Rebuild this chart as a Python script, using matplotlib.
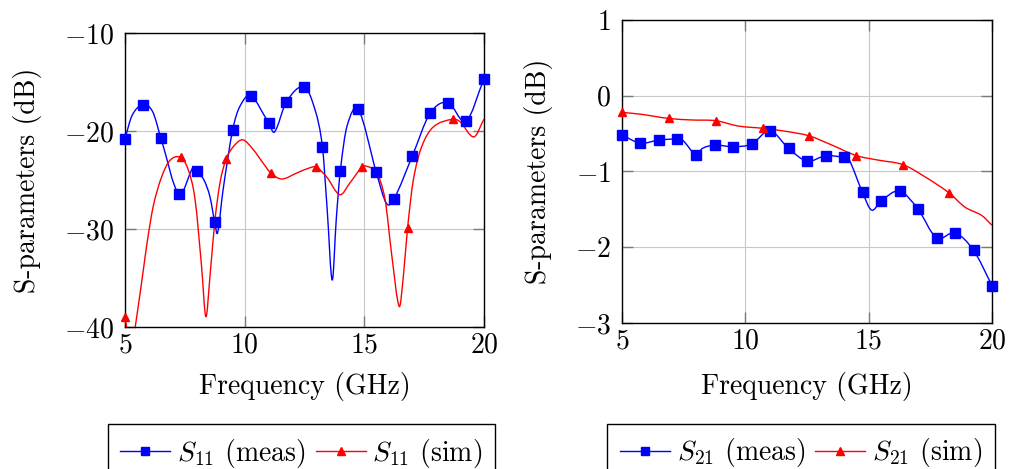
import numpy as np
import matplotlib
matplotlib.use("Agg")
import matplotlib.pyplot as plt
from matplotlib.path import Path
from matplotlib.patches import PathPatch
from matplotlib.lines import Line2D

plt.rcParams["font.family"] = "serif"
plt.rcParams["font.serif"] = ["cmr10"]
plt.rcParams["mathtext.fontset"] = "cm"
plt.rcParams["axes.formatter.use_mathtext"] = True
plt.rcParams["font.size"] = 20

# marker positions (GHz) for the measured curves
meas_marks = [5.0, 5.75, 6.5, 7.25, 8.0, 8.75, 9.5, 10.25, 11.0, 11.75, 12.5,
              13.25, 14.0, 14.75, 15.5, 16.25, 17.0, 17.75, 18.5, 19.25, 20.0]

# S11 measured
s11_meas_f = [5.0, 5.30, 5.75, 6.15, 6.5, 7.25, 7.85, 8.0, 8.30, 8.55, 8.75, 8.87,
              9.10, 9.5, 9.80, 10.25, 11.0, 11.25, 11.75, 12.5, 12.95, 13.25, 13.45,
              13.66, 13.83, 14.0, 14.28, 14.75, 15.5, 15.93, 16.25, 17.0, 17.75,
              18.5, 19.25, 20.0]
s11_meas_db = [-20.8, -18.4, -17.3, -18.0, -20.7, -26.4, -23.7, -24.05, -25.0, -26.7,
               -29.3, -30.4, -26.0, -19.9, -17.5, -16.4, -19.15, -20.1, -17.0, -15.5,
               -17.9, -21.6, -28.0, -35.2, -29.0, -24.05, -19.5, -17.8, -24.2, -27.4,
               -26.9, -22.6, -18.2, -17.1, -19.0, -14.7]

# S11 simulated
s11_sim_f = [5.0, 5.25, 5.63, 5.9, 6.18, 6.53, 6.88, 7.33, 7.65, 7.93, 8.2, 8.38, 8.55,
             8.76, 8.97, 9.22, 9.53, 9.92, 10.36, 10.78, 11.1, 11.55, 12.17, 12.73,
             13.0, 13.43, 13.98, 14.4, 14.9, 15.1, 15.52, 15.87, 16.14, 16.46, 16.63,
             16.81, 17.05, 17.4, 17.88, 18.69, 19.0, 19.58, 20.0]
s11_sim_db = [-38.95, -42.0, -36.6, -31.8, -27.7, -24.7, -23.0, -22.7, -24.0, -27.0,
              -33.8, -38.95, -34.9, -29.1, -25.3, -22.9, -21.6, -20.9, -21.9, -23.3,
              -24.3, -24.9, -24.3, -23.75, -23.7, -24.7, -26.5, -25.3, -23.7, -23.6,
              -24.3, -27.0, -32.5, -37.9, -34.9, -29.9, -25.0, -21.6, -19.6, -18.8,
              -19.05, -20.6, -18.8]
s11_sim_marks = [5.0, 7.33, 9.22, 11.1, 13.0, 14.9, 16.81, 18.69]

# S21 measured
s21_meas_f = [5.0, 5.75, 6.5, 7.25, 7.48, 8.0, 8.26, 8.75, 9.5, 10.25, 11.0, 11.75,
              12.5, 13.25, 14.0, 14.2, 14.75, 15.12, 15.5, 16.25, 17.0, 17.75, 18.5,
              19.25, 20.0]
s21_meas_db = [-0.52, -0.625, -0.585, -0.572, -0.594, -0.78, -0.695, -0.651, -0.673,
               -0.638, -0.462, -0.695, -0.863, -0.793, -0.814, -0.84, -1.276, -1.51,
               -1.387, -1.259, -1.497, -1.876, -1.81, -2.04, -2.505]

# S21 simulated
s21_sim_f = [5.0, 5.8, 6.9, 7.83, 8.81, 9.71, 10.7, 11.74, 12.59, 13.5, 14.5, 15.39,
             16.39, 17.28, 18.27, 18.9, 19.58, 20.0]
s21_sim_db = [-0.22, -0.246, -0.30, -0.32, -0.33, -0.40, -0.43, -0.475, -0.53, -0.65,
              -0.79, -0.85, -0.91, -1.07, -1.285, -1.47, -1.58, -1.71]
s21_sim_marks = [5.0, 6.9, 8.81, 10.7, 12.59, 14.5, 16.39, 18.27]


def smooth_path(x, y):
    """Cubic Hermite curve through the points (like pgfplots 'smooth')."""
    x = np.asarray(x, float)
    y = np.asarray(y, float)
    n = len(x)
    m = np.empty(n)
    m[0] = (y[1] - y[0]) / (x[1] - x[0])
    m[-1] = (y[-1] - y[-2]) / (x[-1] - x[-2])
    m[1:-1] = (y[2:] - y[:-2]) / (x[2:] - x[:-2])
    verts = [(x[0], y[0])]
    codes = [Path.MOVETO]
    for i in range(n - 1):
        dx = x[i + 1] - x[i]
        verts += [(x[i] + dx / 3, y[i] + m[i] * dx / 3),
                  (x[i + 1] - dx / 3, y[i + 1] - m[i + 1] * dx / 3),
                  (x[i + 1], y[i + 1])]
        codes += [Path.CURVE4] * 3
    return Path(verts, codes)


def draw_series(ax, f, db, marks, color, marker, ms):
    ax.add_patch(PathPatch(smooth_path(f, db), fill=False, edgecolor=color,
                           lw=1.0, zorder=3))
    sel = np.isin(np.round(f, 3), np.round(marks, 3))
    ax.plot(np.asarray(f)[sel], np.asarray(db)[sel], ls="none", marker=marker,
            color=color, ms=ms, zorder=4, clip_on=False)


def style_axes(ax, yticks, ylim):
    ax.set_xlim(5, 20)
    ax.set_ylim(*ylim)
    ax.set_xticks([5, 10, 15, 20])
    ax.set_yticks(yticks)
    ax.grid(True, color="#c8c8c8", lw=0.8, zorder=0)
    ax.tick_params(direction="in", length=8, width=1.0, color="#7a7a7a",
                   top=True, right=True)
    ax.tick_params(axis="x", pad=4)
    ax.tick_params(axis="y", pad=8)
    for sp in ax.spines.values():
        sp.set_linewidth(1.0)
    ax.set_xlabel("Frequency (GHz)")
    ax.set_ylabel("S-parameters (dB)")


fig = plt.figure(figsize=(10.16, 4.69), dpi=100)
ax1 = fig.add_axes([0.1230, 0.3028, 0.3533, 0.6269])
ax2 = fig.add_axes([0.6122, 0.3113, 0.3642, 0.6461])

draw_series(ax1, s11_meas_f, s11_meas_db, meas_marks, "blue", "s", 6.5)
draw_series(ax1, s11_sim_f, s11_sim_db, s11_sim_marks, "red", "^", 6)
style_axes(ax1, [-40, -30, -20, -10], (-40, -10))
ax1.xaxis.set_label_coords(0.5, -0.153)
ax1.yaxis.set_label_coords(-0.231, 0.5)

draw_series(ax2, s21_meas_f, s21_meas_db, meas_marks, "blue", "s", 6.5)
draw_series(ax2, s21_sim_f, s21_sim_db, s21_sim_marks, "red", "^", 6)
style_axes(ax2, [-3, -2, -1, 0, 1], (-3, 1))
ax2.xaxis.set_label_coords(0.5, -0.162)
ax2.yaxis.set_label_coords(-0.186, 0.5)

for ax, sub, x, y in [(ax1, "11", 0.4916, -0.33), (ax2, "21", 0.484, -0.333)]:
    handles = [Line2D([], [], color="blue", lw=1.0, marker="s", ms=6),
               Line2D([], [], color="red", lw=1.0, marker="^", ms=5.5)]
    labels = [f"$S_{{{sub}}}$ (meas)", f"$S_{{{sub}}}$ (sim)"]
    leg = ax.legend(handles, labels, loc="upper center", bbox_to_anchor=(x, y),
                    ncol=2, frameon=True, fancybox=False, edgecolor="black",
                    framealpha=1, handlelength=1.8, handletextpad=0.25,
                    columnspacing=0.35, borderpad=0.45, borderaxespad=0,
                    fontsize=20)
    leg.get_frame().set_linewidth(1.0)

fig.savefig("out.png", dpi=100)
